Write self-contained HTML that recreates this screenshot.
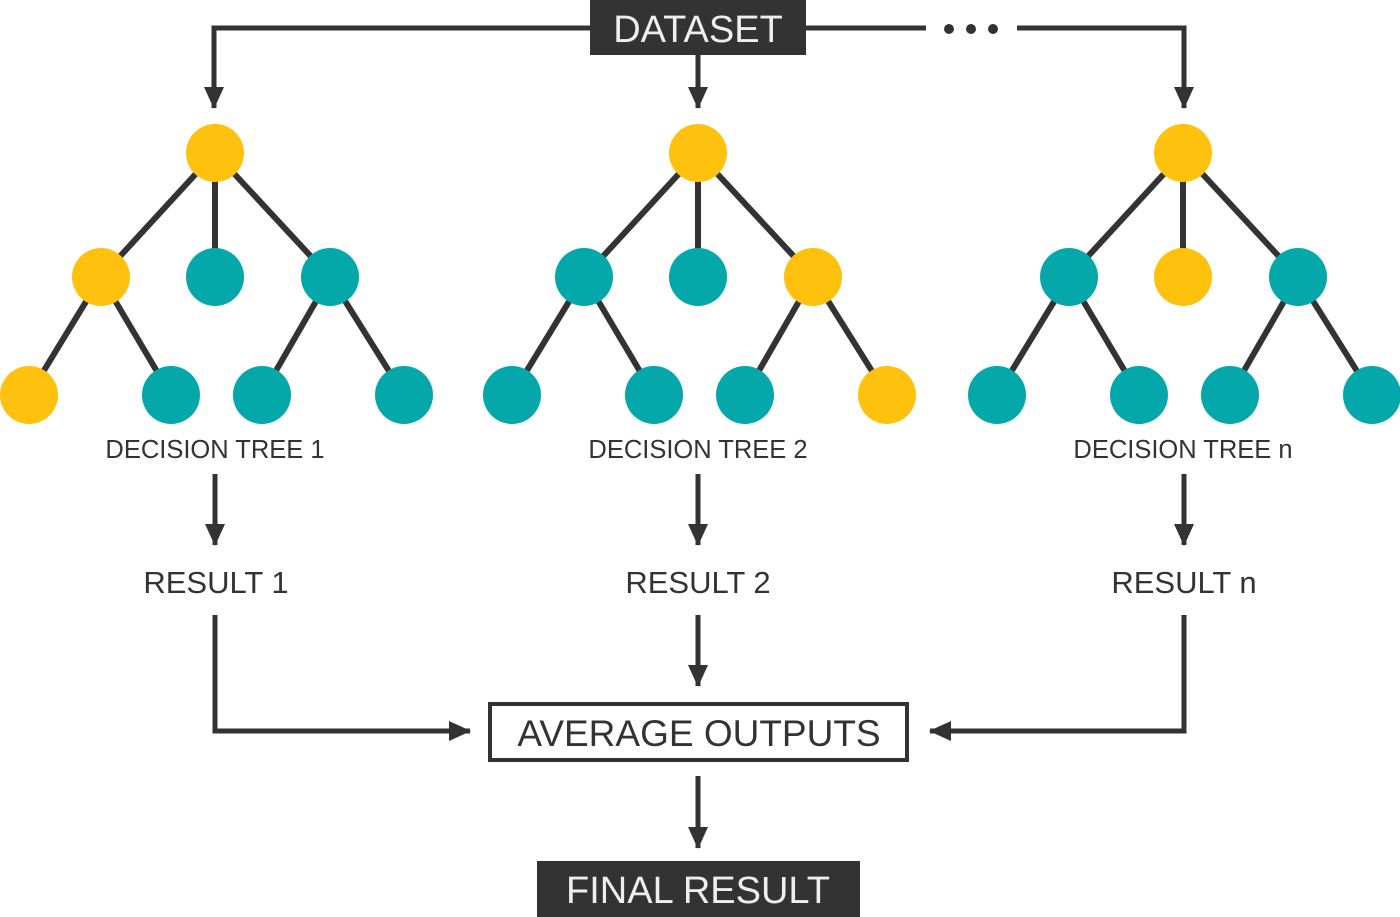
<!DOCTYPE html>
<html><head><meta charset="utf-8"><style>
body{margin:0;background:#fff}
svg{display:block}
text{font-family:"Liberation Sans",sans-serif;fill:#333}
</style></head><body>
<svg id="d" width="1400" height="917" viewBox="0 0 1400 917">
<defs><marker id="ah" markerWidth="5" markerHeight="4" refX="4.2" refY="2" orient="auto" markerUnits="strokeWidth"><path d="M0,0 L4.4,2 L0,4Z" fill="#333"/></marker></defs>
<g stroke="#333" stroke-width="5" fill="none">
<path d="M592,28 H214 V108" marker-end="url(#ah)"/>
<path d="M698,55 V108" marker-end="url(#ah)"/>
<path d="M806,28 H926"/>
<path d="M1017,28 H1184 V108" marker-end="url(#ah)"/>
<path d="M215,474 V545" marker-end="url(#ah)"/>
<path d="M698,474 V545" marker-end="url(#ah)"/>
<path d="M1184,474 V545" marker-end="url(#ah)"/>
<path d="M215,615 V731 H470" marker-end="url(#ah)"/>
<path d="M698,615 V686" marker-end="url(#ah)"/>
<path d="M1184,615 V731 H930" marker-end="url(#ah)"/>
<path d="M698,776 V848" marker-end="url(#ah)"/>
</g>
<g fill="#333">
<circle cx="949" cy="29" r="5"/><circle cx="971" cy="29" r="5"/><circle cx="993" cy="29" r="5"/>
</g>
<rect x="590" y="0" width="216" height="55" fill="#333"/>
<text x="698" y="42" text-anchor="middle" font-size="38" style="fill:#eee">DATASET</text>
<g id="trees"></g>
<text x="216" y="593" text-anchor="middle" font-size="31">RESULT 1</text>
<text x="698" y="593" text-anchor="middle" font-size="31">RESULT 2</text>
<text x="1184" y="593" text-anchor="middle" font-size="31">RESULT n</text>
<rect x="490" y="704" width="417" height="56" fill="none" stroke="#333" stroke-width="4"/>
<text x="699" y="746" text-anchor="middle" font-size="37">AVERAGE OUTPUTS</text>
<rect x="537" y="861" width="323" height="56" fill="#333"/>
<text x="698" y="903" text-anchor="middle" font-size="38" style="fill:#eee">FINAL RESULT</text>
</svg>
<script>
const treeCenters=[215,698,1183];
const treeLabels=["DECISION TREE 1","DECISION TREE 2","DECISION TREE n"];
const rootColors=["Y","Y","Y"];
const childColors=[["Y","T","T"],["T","T","Y"],["T","Y","T"]];
const leafColors=[["Y","T","T","T"],["T","T","T","Y"],["T","T","T","T"]];
const childOffsets=[-114,0,115];
const leafOffsets=[-186,-44,47,189];
const C={Y:"#FEC10E",T:"#05A8AA"};
const NS="http://www.w3.org/2000/svg";
const g=document.getElementById('trees');
function mk(t,a){const e=document.createElementNS(NS,t);for(const k in a)e.setAttribute(k,a[k]);g.appendChild(e);return e;}
treeCenters.forEach((cx,i)=>{
  const root=[cx,153],ch=childOffsets.map(o=>[cx+o,277]),lv=leafOffsets.map(o=>[cx+o,395]);
  const edges=[[root,ch[0]],[root,ch[1]],[root,ch[2]],[ch[0],lv[0]],[ch[0],lv[1]],[ch[2],lv[2]],[ch[2],lv[3]]];
  edges.forEach(([a,b])=>{const l=mk('line',{x1:a[0],y1:a[1],x2:b[0],y2:b[1],stroke:'#333','stroke-width':6});
    
    });
  const nodes=[[root,rootColors[i]]].concat(ch.map((p,j)=>[p,childColors[i][j]]),lv.map((p,j)=>[p,leafColors[i][j]]));
  nodes.forEach(([p,c])=>{const n=mk('circle',{cx:p[0],cy:p[1],r:29,fill:C[c]});
    
    });
  const t=mk('text',{x:cx,y:458,'text-anchor':'middle','font-size':25.5});
  t.textContent=treeLabels[i];
  
  
});
</script>
</body></html>
